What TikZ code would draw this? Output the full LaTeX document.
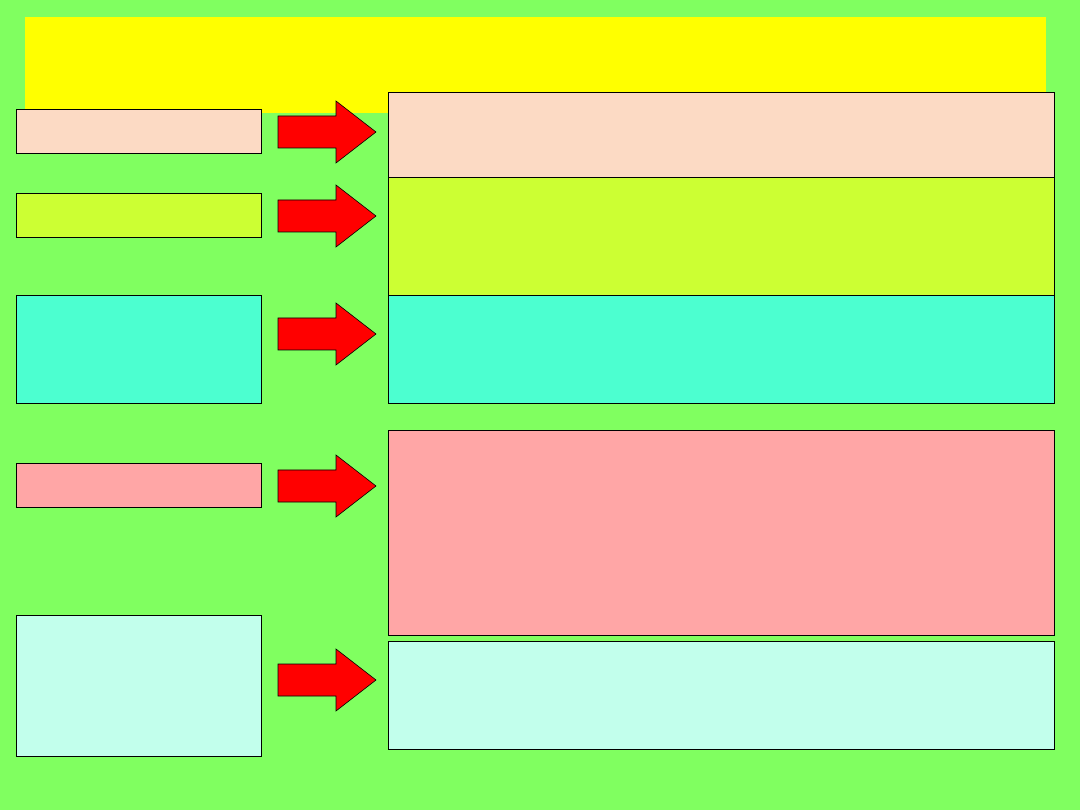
\documentclass[tikz,border=0pt]{standalone}
\usetikzlibrary{shapes.arrows}
\definecolor{bg}{RGB}{128,255,96}
\definecolor{ttl}{RGB}{255,255,0}
\definecolor{peach}{RGB}{252,218,196}
\definecolor{lime}{RGB}{204,255,51}
\definecolor{aqua}{RGB}{76,255,208}
\definecolor{pinkb}{RGB}{255,166,166}
\definecolor{mint}{RGB}{194,255,236}
\tikzset{box/.style={draw=black,line width=0.6pt,anchor=north west,inner sep=0pt,outer sep=0pt},
 arr/.style={draw=black,fill=red,line width=0.6pt,line join=miter}}
\newcommand{\bx}[6]{\node[box,fill=#6,minimum width={#4pt-#2pt},minimum height={#5pt-#3pt}] (#1) at (#2pt,-#3pt) {};}
\newcommand{\blockarrow}[1]{\draw[arr] (278pt,-#1pt+16pt) -- (336pt,-#1pt+16pt) -- (336pt,-#1pt+31pt) -- (376pt,-#1pt) -- (336pt,-#1pt-31pt) -- (336pt,-#1pt-16pt) -- (278pt,-#1pt-16pt) -- cycle;}
\begin{document}
\begin{tikzpicture}
\fill[bg] (0,0) rectangle (1080pt,-810pt);
\useasboundingbox (0,0) rectangle (1080pt,-810pt);
\fill[ttl] (25pt,-17pt) rectangle (1046pt,-113pt);
\bx{l1}{16}{109}{261}{153}{peach}
\bx{l2}{16}{193}{261}{237}{lime}
\bx{l3}{16}{295}{261}{403}{aqua}
\bx{l4}{16}{463}{261}{507}{pinkb}
\bx{l5}{16}{615}{261}{756}{mint}
\bx{r1}{388}{92}{1054}{177}{peach}
\bx{r2}{388}{177}{1054}{295}{lime}
\bx{r3}{388}{295}{1054}{403}{aqua}
\bx{r4}{388}{430}{1054}{635}{pinkb}
\bx{r5}{388}{641}{1054}{749}{mint}
\blockarrow{132}
\blockarrow{216}
\blockarrow{334}
\blockarrow{486}
\blockarrow{680}
\end{tikzpicture}
\end{document}
